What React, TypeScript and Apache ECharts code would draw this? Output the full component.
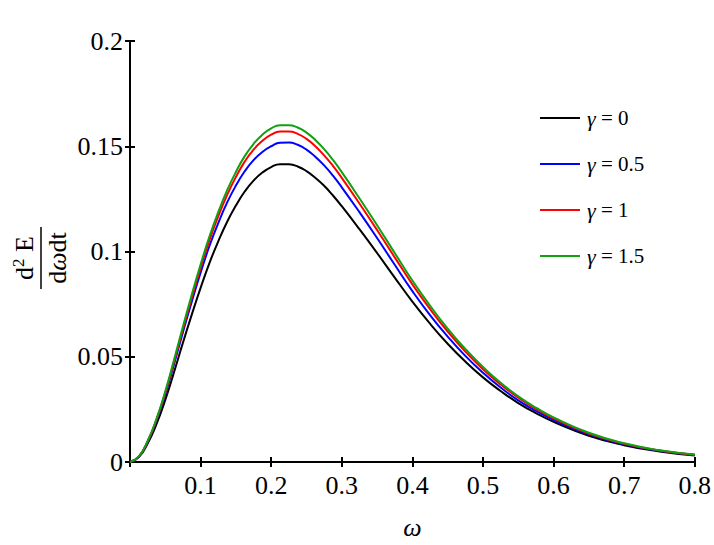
import React, { useEffect, useRef } from "react";
import * as echarts from "echarts";

const omega = [0, 0.0125, 0.025, 0.0375, 0.05, 0.0625, 0.075, 0.0875, 0.1, 0.1125, 0.125, 0.1375, 0.15, 0.1625, 0.175, 0.1875, 0.2, 0.2125, 0.225, 0.2375, 0.25, 0.2625, 0.275, 0.2875, 0.3, 0.325, 0.35, 0.375, 0.4, 0.425, 0.45, 0.475, 0.5, 0.525, 0.55, 0.575, 0.6, 0.65, 0.7, 0.75, 0.8];

const gamma0 = [0, 0.0023, 0.0088, 0.018, 0.0295, 0.0428, 0.0567, 0.07, 0.0827, 0.0945, 0.1048, 0.114, 0.1218, 0.1285, 0.1337, 0.1375, 0.1401, 0.1415, 0.1414, 0.1404, 0.1382, 0.135, 0.1312, 0.1266, 0.1215, 0.1106, 0.0993, 0.0876, 0.0762, 0.0657, 0.0562, 0.0477, 0.0402, 0.0337, 0.028, 0.0232, 0.0191, 0.0125, 0.008, 0.005, 0.0031];
const gamma05 = [0, 0.0025, 0.0096, 0.0196, 0.0321, 0.0466, 0.0617, 0.0762, 0.0899, 0.1026, 0.1135, 0.1232, 0.1313, 0.1381, 0.1434, 0.1473, 0.15, 0.1517, 0.1518, 0.1507, 0.1484, 0.145, 0.1409, 0.136, 0.1305, 0.1187, 0.1064, 0.0937, 0.0812, 0.0698, 0.0596, 0.0504, 0.0424, 0.0354, 0.0293, 0.0243, 0.02, 0.0131, 0.0084, 0.0053, 0.0033];
const gamma1 = [0, 0.0026, 0.0098, 0.0201, 0.0329, 0.0477, 0.0632, 0.078, 0.0922, 0.1053, 0.1167, 0.1268, 0.1354, 0.1427, 0.1484, 0.1526, 0.1555, 0.157, 0.157, 0.1559, 0.1535, 0.15, 0.1457, 0.1407, 0.135, 0.1228, 0.1102, 0.0972, 0.0844, 0.0727, 0.062, 0.0525, 0.0441, 0.0368, 0.0305, 0.0252, 0.0207, 0.0135, 0.0087, 0.0055, 0.0034];
const gamma15 = [0, 0.0027, 0.01, 0.0205, 0.0336, 0.0487, 0.0644, 0.0795, 0.0938, 0.1071, 0.1187, 0.129, 0.1378, 0.1453, 0.1511, 0.1555, 0.1585, 0.16, 0.16, 0.1589, 0.1565, 0.153, 0.1486, 0.1435, 0.1377, 0.1253, 0.1125, 0.0993, 0.0862, 0.0743, 0.0634, 0.0537, 0.0451, 0.0376, 0.0312, 0.0258, 0.0212, 0.0139, 0.0089, 0.0056, 0.0036];

const gammaLabels = ["0", "0.5", "1", "1.5"];
const seriesNames = gammaLabels.map((g) => "γ = " + g);
const seriesColors = ["#000000", "#0000ff", "#ff0000", "#10a010"];
const seriesValues = [gamma0, gamma05, gamma1, gamma15];

const xTicks = [0.1, 0.2, 0.3, 0.4, 0.5, 0.6, 0.7, 0.8];
const yTicks = [0, 0.05, 0.1, 0.15, 0.2];

const FONT = "Liberation Serif";

export default function App() {
  const ref = useRef<HTMLDivElement>(null);
  useEffect(() => {
    if (!ref.current) return;
    const chart = echarts.init(ref.current, undefined, { renderer: "svg" });
    const axisLine = { show: true, lineStyle: { color: "#000", width: 2 } };
    const axisTick = { show: true, inside: true, length: 5, lineStyle: { color: "#000", width: 2 } };
    const option: any = {
      animation: false,
      backgroundColor: "#fff",
      grid: { left: 130, right: 17, top: 41, bottom: 79, containLabel: false },
      legend: {
        orient: "vertical",
        left: 535,
        top: 102,
        itemWidth: 40,
        itemHeight: 14,
        itemGap: 24,
        icon: "path://M0,6 L40,6 L40,8 L0,8 Z",
        data: seriesNames,
        formatter: (name: string) => {
          const parts = name.split(" = ");
          return "{g|γ}{t| = " + parts[1] + "}";
        },
        textStyle: {
          color: "#000",
          fontFamily: FONT,
          fontSize: 21,
          padding: [0, 0, 0, 2],
          rich: {
            g: { fontFamily: FONT, fontStyle: "italic", fontSize: 22, color: "#000" },
            t: { fontFamily: FONT, fontSize: 21, color: "#000" },
          },
        },
      },
      xAxis: [
        {
          type: "value",
          min: 0,
          max: 0.8,
          interval: 0.1,
          name: "ω",
          nameLocation: "middle",
          nameGap: 52,
          nameTextStyle: { fontFamily: FONT, fontStyle: "italic", fontSize: 26, color: "#000" },
          axisLine,
          axisTick,
          splitLine: { show: false },
          axisLabel: {
            fontFamily: FONT,
            fontSize: 26,
            color: "#000",
            margin: 10,
            formatter: (v: number) => {
              const t = xTicks.find((k) => Math.abs(k - v) < 1e-9);
              return t === undefined ? "" : String(t);
            },
          },
        },
        {
          type: "value",
          position: "top",
          min: 0,
          max: 0.8,
          interval: 0.1,
          axisLine,
          axisTick,
          axisLabel: { show: false },
          splitLine: { show: false },
        },
      ],
      yAxis: [
        {
          type: "value",
          min: 0,
          max: 0.2,
          interval: 0.05,
          axisLine,
          axisTick,
          splitLine: { show: false },
          axisLabel: {
            fontFamily: FONT,
            fontSize: 26,
            color: "#000",
            margin: 7,
            formatter: (v: number) => {
              const t = yTicks.find((k) => Math.abs(k - v) < 1e-9);
              return t === undefined ? "" : String(t);
            },
          },
        },
        {
          type: "value",
          position: "right",
          min: 0,
          max: 0.2,
          interval: 0.05,
          axisLine,
          axisTick,
          axisLabel: { show: false },
          splitLine: { show: false },
        },
      ],
      series: seriesNames.map((name, i) => ({
        name,
        type: "line",
        smooth: 0.5,
        symbol: "none",
        xAxisIndex: 0,
        yAxisIndex: 0,
        lineStyle: { color: seriesColors[i], width: 2 },
        itemStyle: { color: seriesColors[i] },
        data: omega.map((w, j) => [w, seriesValues[i][j]]),
      })),
      graphic: [
        {
          type: "group",
          x: 41,
          y: 258,
          rotation: Math.PI / 2,
          children: [
            {
              type: "text",
              x: 0,
              y: -2,
              style: {
                text: "{a|d}{s|2}{a| E}",
                align: "center",
                verticalAlign: "bottom",
                fill: "#000",
                rich: {
                  a: { fontFamily: FONT, fontSize: 26, fill: "#000", color: "#000" },
                  s: { fontFamily: FONT, fontSize: 17, fill: "#000", color: "#000", padding: [0, 0, 12, 0] },
                },
              },
            },
            {
              type: "line",
              shape: { x1: -31, y1: 0, x2: 31, y2: 0 },
              style: { stroke: "#000", lineWidth: 1.5 },
            },
            {
              type: "text",
              x: 0,
              y: 3,
              style: {
                text: "{a|d}{w|ω}{a|dt}",
                align: "center",
                verticalAlign: "top",
                fill: "#000",
                rich: {
                  a: { fontFamily: FONT, fontSize: 26, fill: "#000", color: "#000" },
                  w: { fontFamily: FONT, fontSize: 26, fontStyle: "italic", fill: "#000", color: "#000" },
                },
              },
            },
          ],
        },
      ],
    };
    chart.setOption(option);
    return () => chart.dispose();
  }, []);
  return <div ref={ref} style={{ position: "fixed", left: 0, top: 0, width: 714, height: 545, background: "#fff" }} />;
}
